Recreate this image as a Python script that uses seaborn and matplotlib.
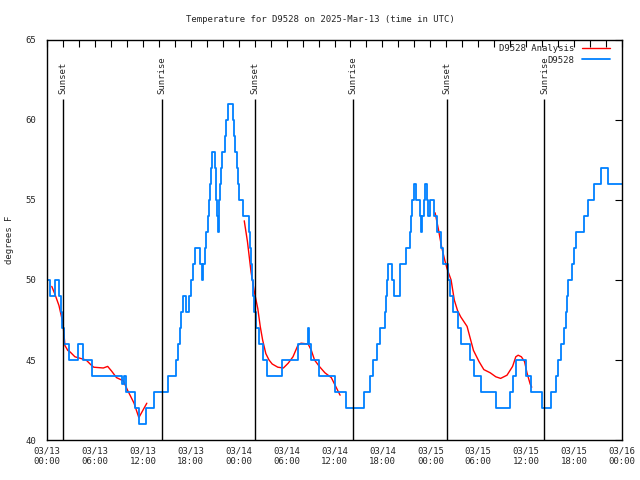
import pandas as pd
import numpy as np
import matplotlib
matplotlib.use('Agg')
import matplotlib.pyplot as plt
import matplotlib.dates as mdates
import seaborn as sns
from matplotlib.lines import Line2D

# hours after 2025-03-13 00:00 UTC, temps in degrees F
obs_hours = [0.0, 0.4, 1.0, 1.45, 1.7, 1.9, 2.15, 2.8, 3.9, 4.5, 5.6, 9.45, 9.7, 9.95,
             11.0, 11.5, 12.4, 13.4, 15.15, 16.2, 16.4, 16.6, 16.8, 17.0, 17.35, 17.75,
             18.05, 18.3, 18.55, 19.1, 19.35, 19.55, 19.75, 19.9, 20.1, 20.3, 20.45,
             20.55, 20.7, 21.0, 21.1, 21.2, 21.3, 21.4, 21.5, 21.65, 21.8, 21.9, 22.25,
             22.45, 22.7, 23.25, 23.4, 23.6, 23.75, 23.9, 24.05, 24.6, 25.25, 25.4,
             25.55, 25.7, 25.8, 25.95, 26.15, 26.5, 27.0, 27.5, 29.4, 31.4, 32.65,
             32.85, 33.0, 34.1, 36.1, 37.5, 39.7, 40.45, 40.8, 41.3, 41.75, 42.3, 42.45,
             42.6, 42.75, 43.25, 43.45, 44.15, 44.25, 44.9, 45.4, 45.6, 45.75, 45.9,
             46.2, 46.7, 46.8, 47.0, 47.2, 47.35, 47.55, 47.75, 48.0, 48.4, 48.85, 49.3,
             49.6, 50.15, 50.5, 50.85, 51.5, 51.9, 53.0, 53.5, 54.3, 56.2, 58.0, 58.3,
             58.7, 59.95, 60.6, 61.95, 63.1, 63.7, 64.0, 64.35, 64.75, 64.95, 65.1,
             65.3, 65.75, 66.0, 66.3, 67.2, 67.8, 68.5, 69.35, 70.3, 72.0]
obs_temps = [50, 49, 50, 49, 48, 47, 46, 45, 46, 45, 44, 43.5, 44, 43,
             42, 41, 42, 43, 44, 45, 46, 47, 48, 49, 48, 49,
             50, 51, 52, 51, 50, 51, 52, 53, 54, 55, 56,
             57, 58, 57, 56, 55, 54, 53, 55, 56, 57, 58, 59,
             60, 61, 60, 59, 58, 57, 56, 55, 54, 53, 52,
             51, 50, 49, 48, 47, 46, 45, 44, 45, 46, 47,
             46, 45, 44, 43, 42, 43, 44, 45, 46, 47, 48, 49,
             50, 51, 50, 49, 50, 51, 52, 53, 54, 55, 56,
             55, 54, 53, 54, 55, 56, 55, 54, 55, 54, 53, 52,
             51, 50, 49, 48, 47, 46, 45, 44, 43, 42, 43, 44,
             45, 44, 43, 42, 43, 44, 45, 46, 47, 48, 49,
             50, 51, 52, 53, 54, 55, 56, 57, 56, 56]

# analysis curve, three pieces
ana1_hours = [0.6, 1.0, 1.5, 2.0, 2.25, 2.6, 2.9, 3.5, 4.9, 5.5, 5.85, 7.05, 7.6, 8.1,
              8.7, 9.55, 10.1, 10.9, 11.5, 12.5]
ana1_temps = [49.6, 49.1, 48.4, 47.3, 45.9, 45.6, 45.5, 45.2, 45.0, 44.7, 44.55, 44.5,
              44.6, 44.3, 43.9, 43.7, 43.1, 42.3, 41.4, 42.3]
ana2_hours = [24.7, 25.1, 25.55, 25.95, 26.4, 26.7, 27.0, 27.4, 27.8, 28.2, 28.9, 29.6,
              30.2, 30.8, 31.4, 31.8, 32.7, 33.1, 33.5, 34.1, 34.8, 35.6, 36.2, 36.7]
ana2_temps = [53.7, 52.4, 50.5, 49.3, 48.2, 47.1, 46.25, 45.4, 45.0, 44.75, 44.55, 44.5,
              44.8, 45.2, 45.9, 46.05, 46.0, 45.6, 45.0, 44.6, 44.2, 43.9, 43.3, 42.8]
ana3_hours = [48.6, 49.0, 49.4, 49.8, 50.1, 50.6, 51.0, 51.4, 51.8, 52.2, 52.6, 53.0,
              53.4, 54.1, 54.7, 55.5, 56.2, 56.8, 57.6, 58.3, 58.7, 59.0, 59.4, 59.8,
              60.1, 60.5, 60.7]
ana3_temps = [54.2, 53.2, 52.1, 51.25, 50.7, 50.0, 48.75, 48.1, 47.7, 47.4, 47.1, 46.35,
              45.6, 44.9, 44.4, 44.2, 43.95, 43.85, 44.05, 44.6, 45.2, 45.3, 45.2, 44.9,
              44.2, 43.5, 43.3]

sun_hours = [2.04, 14.4, 26.05, 38.36, 50.13, 62.28]
sun_labels = ['Sunset', 'Sunrise', 'Sunset', 'Sunrise', 'Sunset', 'Sunrise']

start = pd.Timestamp('2025-03-13 00:00')
def to_time(h):
    return start + pd.to_timedelta(np.array(h), unit='h')

obs = pd.DataFrame({'time': to_time(obs_hours), 'temp': obs_temps})
ana = pd.concat([
    pd.DataFrame({'time': to_time(ana1_hours), 'temp': ana1_temps, 'seg': 1}),
    pd.DataFrame({'time': to_time(ana2_hours), 'temp': ana2_temps, 'seg': 2}),
    pd.DataFrame({'time': to_time(ana3_hours), 'temp': ana3_temps, 'seg': 3}),
])

sns.set_theme(style='white')
plt.rcParams['font.family'] = ['DejaVu Sans Mono']
plt.rcParams['font.size'] = 6.5

fig = plt.figure(figsize=(6.4, 4.8), dpi=100)
ax = fig.add_axes([47/640, 40/480, 575/640, 400/480])

# analysis first, station obs on top
sns.lineplot(data=ana, x='time', y='temp', units='seg', estimator=None,
             color='#ff0000', linewidth=1.0, ax=ax, legend=False)
sns.lineplot(data=obs, x='time', y='temp', color='#0080ff', linewidth=1.3,
             drawstyle='steps-post', ax=ax, legend=False)

for h, lab in zip(sun_hours, sun_labels):
    t = to_time([h])[0]
    ax.vlines(t, 40, 61.3, color='black', linewidth=1)
    ax.text(t, 61.6, lab, rotation=90, ha='center', va='bottom', fontsize=6.5)

ax.set_xlim(start, start + pd.Timedelta(hours=72))
ax.set_ylim(40, 65)
ax.set_yticks([40, 45, 50, 55, 60, 65])
ax.xaxis.set_major_locator(mdates.HourLocator(byhour=range(0, 24, 6)))
ax.xaxis.set_minor_locator(mdates.HourLocator(byhour=range(0, 24, 2)))
ax.xaxis.set_major_formatter(mdates.DateFormatter('%m/%d\n%H:%M'))
ax.tick_params(which='both', direction='in', top=True, right=True, length=5,
               width=0.8, color='black', labelsize=6.5, pad=8)
ax.tick_params(axis='x', pad=5)
ax.set_xlabel('')
ax.set_ylabel('')
for s in ax.spines.values():
    s.set_color('black')
    s.set_linewidth(1)

handles = [Line2D([], [], color='#ff0000', linewidth=1.0),
           Line2D([], [], color='#0080ff', linewidth=1.3)]
ax.legend(handles, ['D9528 Analysis', 'D9528'], loc='upper right', frameon=False,
          bbox_to_anchor=(1 - 10/575, 1 - 2/400), markerfirst=False,
          handlelength=3.1, handletextpad=0.9, labelspacing=0.3,
          borderpad=0.2, borderaxespad=0.0, fontsize=6.5)

fig.text(0.5, 1 - 19/480, 'Temperature for D9528 on 2025-Mar-13 (time in UTC)',
         ha='center', va='center', fontsize=6.5)
fig.text(10/640, 0.5, 'degrees F', rotation=90, ha='center', va='center', fontsize=6.5)

plt.savefig('out.png', dpi=100)
